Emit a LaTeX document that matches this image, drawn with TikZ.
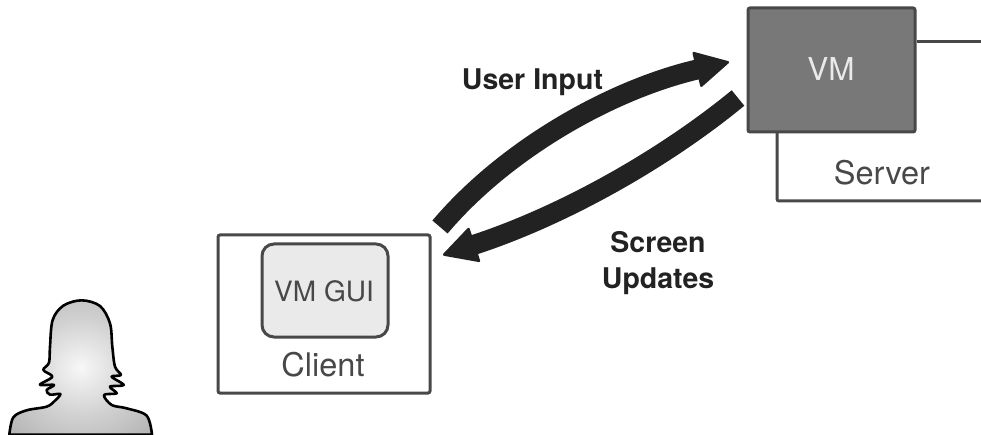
\documentclass[tikz,border=0pt]{standalone}
\usepackage{fontspec}
\setmainfont{TeX Gyre Heros}
\usetikzlibrary{arrows.meta}
\definecolor{linegray}{HTML}{484848}
\definecolor{vmfill}{HTML}{787878}
\definecolor{guifill}{HTML}{EAEAEA}
\definecolor{inkdark}{HTML}{222222}
\pgfdeclareradialshading{bust}{\pgfpointorigin}{color(0bp)=(white!97!black); color(18bp)=(white!82!black); color(50bp)=(white!60!black); color(72bp)=(white!42!black)}
\tikzset{
  x=1pt,y=-1pt,
  boxline/.style={draw=linegray,line width=3pt,rounded corners=2pt,inner sep=0pt},
  wire/.style={draw=linegray,line width=3pt,rounded corners=2pt},
  lab/.style={text=linegray,font=\fontsize{32.5}{36}\selectfont,inner sep=0pt},
  boldlab/.style={text=inkdark,font=\fontsize{28.5}{36}\selectfont\bfseries,align=center,inner sep=0pt},
  flow/.style={draw=inkdark,line width=20pt,-{Triangle[length=35pt,width=37pt,round,line width=2.5pt]}},
}
\begin{document}
\begin{tikzpicture}
\useasboundingbox (0,0) rectangle (981,435);
% person
\begin{scope}[x=0.3333pt,y=-0.3333pt,yshift=-270pt]
\path[draw=black,line width=2.6pt,line join=round,shading=bust]
 plot[smooth,tension=.55] coordinates {(28,494) (40,442) (80,421) (140,410) (165,392) (181,372) (150,374) (140,360) (162,345) (120,344) (157,320) (130,300) (147,278) (150,230) (158,150) (190,107) (245,91) (300,108) (330,160) (337,230) (345,290) (363,315) (335,320) (371,345) (330,350) (350,370) (312,375) (335,405) (380,415) (440,437) (456,494)} -- cycle;
\end{scope}
% client
\node[boxline,minimum width=212pt,minimum height=158pt] (client) at (324,314) {};
\node[boxline,draw=linegray,fill=guifill,rounded corners=12pt,minimum width=126pt,minimum height=93pt] (gui) at (325,290.5) {};
\node[lab,font=\fontsize{28}{34}\selectfont] (guitext) at (324,291) {VM GUI};
\node[lab] (clienttext) at (323,365) {Client};
% server
\node[boxline,fill=vmfill,minimum width=167pt,minimum height=124pt] (vm) at (831.5,70) {};
\node[lab,text=guifill,font=\fontsize{31.5}{36}\selectfont] (vmtext) at (831,69) {VM};
\coordinate (srvtop) at (981,42);
\coordinate (srvbot) at (981,201);
\coordinate (srvleft) at (777,201);
\coordinate (srvstart) at (777,132);
\draw[wire] (vm.east |- srvtop) -- (srvtop);
\draw[wire] (srvstart) -- (srvleft) -- (srvbot);
\node[lab] (servertext) at (882,173) {Server};
% arrows
\coordinate (inA) at (440,227);
\coordinate (inB) at (729,62);
\coordinate (upA) at (738,98);
\coordinate (upB) at (443,255);
\draw[flow] (inA) .. controls (505,150) and (610,90) .. (inB);
\draw[flow] (upA) .. controls (665,158) and (565,215) .. (upB);
\node[boldlab] (userinput) at (532.5,82) {User Input};
\node[boldlab] (updates) at (658,263) {Screen\\Updates};
\end{tikzpicture}
\end{document}
